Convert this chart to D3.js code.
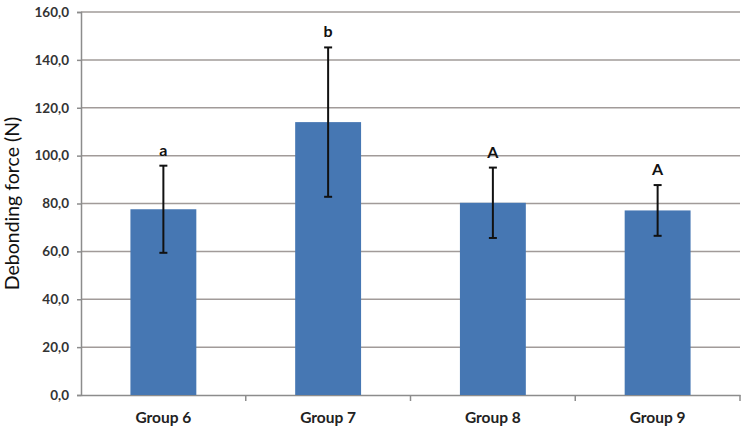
<!DOCTYPE html>
<html>
<head>
<meta charset="utf-8">
<script src="https://cdn.jsdelivr.net/npm/d3@7/dist/d3.min.js"></script>
<style>
  body { margin: 0; background: #fff; }
  #chart { width: 750px; height: 432px; }
</style>
</head>
<body>
<div id="chart"></div>
<script>
  var groups = ['Group 6', 'Group 7', 'Group 8', 'Group 9'];
  var means = [77.6, 114.0, 80.3, 77.1];
  var errors = [18.2, 31.2, 14.7, 10.6];
  var letters = ['a', 'b', 'A', 'A'];
  var yTicks = [0, 20, 40, 60, 80, 100, 120, 140, 160];

  var margin = { top: 12, right: 10, bottom: 37, left: 81 };
  var width = 750 - margin.left - margin.right;
  var height = 432 - margin.top - margin.bottom;
  var font = 'Lato, "Open Sans", sans-serif';

  var svg = d3.select('#chart')
    .append('svg')
    .attr('width', 750)
    .attr('height', 432)
    .append('g')
    .attr('transform', 'translate(' + margin.left + ',' + margin.top + ')');

  var x = d3.scaleBand()
    .domain(groups)
    .range([0, width])
    .paddingInner(0.6)
    .paddingOuter(0.3);

  var y = d3.scaleLinear()
    .domain([0, 160])
    .range([height, 0]);

  // grid lines
  svg.append('g')
    .selectAll('line')
    .data(yTicks.filter(function (d) { return d > 0; }))
    .enter()
    .append('line')
    .attr('x1', 0)
    .attr('x2', width)
    .attr('y1', function (d) { return y(d); })
    .attr('y2', function (d) { return y(d); })
    .attr('stroke', '#a19b99')
    .attr('stroke-width', 1.5);

  // y axis
  var yAxis = svg.append('g')
    .call(d3.axisLeft(y).tickValues(yTicks).tickSize(4).tickPadding(8)
      .tickFormat(function (d) { return d3.format('.1f')(d).replace('.', ','); }));
  yAxis.select('.domain').attr('stroke', '#8c8c8c').attr('stroke-width', 1.5);
  yAxis.selectAll('.tick line').attr('stroke', '#8c8c8c').attr('stroke-width', 1.5);
  yAxis.selectAll('text')
    .style('font-family', font)
    .style('font-size', '13.5px')
    .style('font-weight', '700')
    .style('fill', '#333');

  // x axis
  var xAxis = svg.append('g')
    .attr('transform', 'translate(0,' + height + ')')
    .call(d3.axisBottom(x).tickSize(0).tickPadding(17));
  xAxis.select('.domain').attr('stroke', '#8c8c8c').attr('stroke-width', 1.5);
  xAxis.selectAll('text')
    .style('font-family', font)
    .style('font-size', '15.5px')
    .style('font-weight', '700')
    .style('fill', '#222');

  // category separators
  svg.append('g')
    .selectAll('line')
    .data(groups.slice(1).concat(['end']))
    .enter()
    .append('line')
    .attr('x1', function (d, i) { return i < groups.length - 1 ? x(groups[i + 1]) - x.step() * x.paddingInner() / 2 : width; })
    .attr('x2', function (d, i) { return i < groups.length - 1 ? x(groups[i + 1]) - x.step() * x.paddingInner() / 2 : width; })
    .attr('y1', height)
    .attr('y2', height + 6)
    .attr('stroke', '#8c8c8c')
    .attr('stroke-width', 1.5);

  // bars
  svg.selectAll('.bar')
    .data(groups)
    .enter()
    .append('rect')
    .attr('class', 'bar')
    .attr('x', function (d) { return x(d); })
    .attr('width', x.bandwidth())
    .attr('y', function (d, i) { return y(means[i]); })
    .attr('height', function (d, i) { return height - y(means[i]); })
    .attr('fill', '#4677b3');

  // error bars
  var err = svg.selectAll('.err')
    .data(groups)
    .enter()
    .append('g')
    .attr('class', 'err')
    .attr('stroke', '#111')
    .attr('stroke-width', 2);

  err.append('line')
    .attr('x1', function (d) { return x(d) + x.bandwidth() / 2; })
    .attr('x2', function (d) { return x(d) + x.bandwidth() / 2; })
    .attr('y1', function (d, i) { return y(means[i] + errors[i]); })
    .attr('y2', function (d, i) { return y(means[i] - errors[i]); });

  [1, -1].forEach(function (s) {
    err.append('line')
      .attr('x1', function (d) { return x(d) + x.bandwidth() / 2 - 4; })
      .attr('x2', function (d) { return x(d) + x.bandwidth() / 2 + 4; })
      .attr('y1', function (d, i) { return y(means[i] + s * errors[i]); })
      .attr('y2', function (d, i) { return y(means[i] + s * errors[i]); });
  });

  // significance letters
  svg.selectAll('.letter')
    .data(groups)
    .enter()
    .append('text')
    .attr('class', 'letter')
    .attr('x', function (d) { return x(d) + x.bandwidth() / 2; })
    .attr('y', function (d, i) { return y(means[i] + errors[i]) - 10; })
    .attr('text-anchor', 'middle')
    .text(function (d, i) { return letters[i]; })
    .style('font-family', font)
    .style('font-size', '16px')
    .style('font-weight', '700')
    .style('fill', '#111');

  // y title
  svg.append('text')
    .attr('transform', 'translate(' + (-62) + ',' + (height / 2) + ') rotate(-90)')
    .attr('text-anchor', 'middle')
    .text('Debonding force (N)')
    .style('font-family', font)
    .style('font-size', '19.5px')
    .style('fill', '#111');
</script>
</body>
</html>
